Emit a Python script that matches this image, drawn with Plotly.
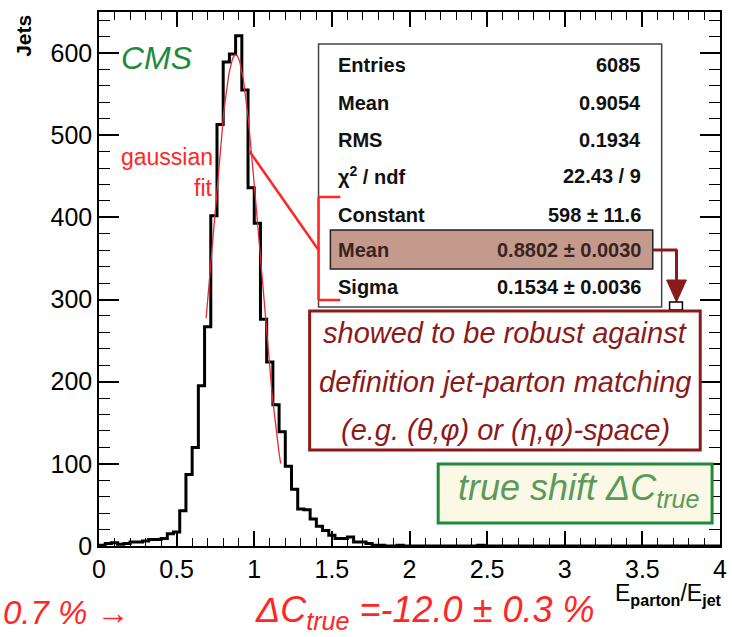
import math
import plotly.graph_objects as go

# ---------------- data ----------------
bin_width = 0.04
bin_counts = [
    1, 3, 4, 2, 3, 5, 5, 6, 8, 8,
    9, 15, 17, 43, 87, 120, 195, 267, 402, 513,
    589, 599, 621, 555, 436, 393, 276, 224, 172, 139,
    97, 69, 45, 44, 33, 24, 19, 13, 9, 9,
    11, 5, 5, 3, 1, 1, 0, 0, 1, 0,
    0, 0, 0, 0, 0, 0, 0, 0, 0, 0,
    0, 1, 0, 0, 0, 0, 0, 0, 0, 0,
    0, 0, 0, 0, 0, 0, 0, 0, 0, 0,
    0, 0, 0, 0, 0, 0, 0, 0, 0, 0,
    0, 0, 0, 0, 0, 0, 0, 0, 0, 0,
]
fit_constant = 598.0
fit_mean = 0.8802
fit_sigma = 0.1534
fit_range = [0.69, 1.17]

x_tickvals = [0, 0.5, 1, 1.5, 2, 2.5, 3, 3.5, 4]
x_ticktext = ["0", "0.5", "1", "1.5", "2", "2.5", "3", "3.5", "4"]
y_tickvals = [0, 100, 200, 300, 400, 500, 600]

stats_labels = ["Entries", "Mean", "RMS", "χ<sup>2</sup> / ndf", "Constant", "Mean", "Sigma"]
stats_values = ["6085", "0.9054", "0.1934", "22.43 / 9", "598 ± 11.6", "0.8802 ± 0.0030", "0.1534 ± 0.0036"]

note_lines = ["showed to be robust against",
              "definition jet-parton matching",
              "(e.g. (θ,φ) or (η,φ)-space)"]

# ---------------- geometry helpers ----------------
W, H = 732, 637
L, R, T, B = 99, 727, 12, 546


def px(x):
    return (x - L) / (R - L)


def py(y):
    return (B - y) / (B - T)


# ---------------- traces ----------------
edges = [i * bin_width for i in range(len(bin_counts) + 1)]
hx = edges
hy = bin_counts + [bin_counts[-1]]

n_fit = 120
fx = [fit_range[0] + (fit_range[1] - fit_range[0]) * i / (n_fit - 1) for i in range(n_fit)]
fy = [fit_constant * math.exp(-0.5 * ((v - fit_mean) / fit_sigma) ** 2) for v in fx]

fig = go.Figure()
fig.add_trace(go.Scatter(x=hx, y=hy, mode="lines", line=dict(shape="hv", color="black", width=3),
                         hoverinfo="skip", showlegend=False))
fig.add_trace(go.Scatter(x=fx, y=fy, mode="lines", line=dict(color="#e8293a", width=1.3),
                         hoverinfo="skip", showlegend=False))
# invisible trace to activate mirrored tick axes
fig.add_trace(go.Scatter(x=[0], y=[0], xaxis="x2", yaxis="y2", mode="markers",
                         marker=dict(opacity=0), hoverinfo="skip", showlegend=False))

FONT = "Liberation Sans, Arial, sans-serif"
RED = "#ff2626"
DRED = "#8b1a1a"
GREEN = "#1f8a3c"

shapes = []
annotations = []


def rect(x0, y0, x1, y1, line_color, line_width, fill):
    shapes.append(dict(type="rect", xref="paper", yref="paper", x0=px(x0), x1=px(x1), y0=py(y1), y1=py(y0),
                       line=dict(color=line_color, width=line_width), fillcolor=fill, layer="above"))


def seg(x0, y0, x1, y1, color, width):
    shapes.append(dict(type="line", xref="paper", yref="paper", x0=px(x0), x1=px(x1), y0=py(y0), y1=py(y1),
                       line=dict(color=color, width=width), layer="above"))


def text(x, y, s, size, color, xanchor="center", bold=False, italic=False, angle=0, family=FONT):
    if bold:
        s = "<b>" + s + "</b>"
    if italic:
        s = "<i>" + s + "</i>"
    annotations.append(dict(xref="paper", yref="paper", x=px(x), y=py(y), text=s, showarrow=False,
                            xanchor=xanchor, yanchor="middle", textangle=angle,
                            font=dict(size=size, color=color, family=family)))


# stats box
rect(321, 44, 668, 307, "#444444", 1.5, "white")
rect(333, 230, 659, 269, "#222222", 1.5, "#c49a8c")
row_y = [65, 103, 140, 176, 215, 250, 287]
for i, (lab, val) in enumerate(zip(stats_labels, stats_values)):
    col = "#3a2420" if i == 5 else "#111111"
    text(339, row_y[i], lab, 20, col, xanchor="left", bold=True)
    text(649, row_y[i], val, 20, col, xanchor="right", bold=True)

# red bracket + pointer
seg(321, 197, 343, 197, RED, 2.5)
seg(321, 197, 321, 300, RED, 2.5)
seg(321, 300, 343, 300, RED, 2.5)
seg(251, 151, 321, 250, RED, 2.5)

# dark red arrow
seg(659, 250, 684, 250, DRED, 3)
seg(683, 250, 683, 282, DRED, 3)
shapes.append(dict(type="path", xref="paper", yref="paper",
                   path="M {} {} L {} {} L {} {} Z".format(px(673), py(280), px(693), py(280), px(683), py(302)),
                   fillcolor=DRED, line=dict(color=DRED, width=1), layer="above"))
rect(676, 302, 689, 310, "black", 1.5, "white")

# note box
rect(312, 311, 707, 450, DRED, 3, "white")
for i, ln in enumerate(note_lines):
    text(510, [333, 382, 430][i], ln, 29, DRED, italic=True)

# green box
rect(442, 464, 719, 523, GREEN, 3, "#fbf8e6")
text(584, 490, "true shift ΔC<sub>true</sub>", 36, "#5a9a5a", italic=True)

# CMS label
text(157, 58, "CMS", 32, GREEN, italic=True)

# gaussian fit label
text(216, 157, "gaussian", 23, RED, xanchor="right")
text(216, 188, "fit", 23, RED, xanchor="right")

# axis titles
text(22, 36, "Jets", 21, "black", bold=True, angle=-90)
text(731, 594, "E<sub><b>parton</b></sub>/E<sub><b>jet</b></sub>", 23, "black", xanchor="right")

# bottom red texts
text(0, 612, "0.7 % →", 33, RED, xanchor="left", italic=True)
text(428, 612, "ΔC<sub>true</sub> =-12.0 ± 0.3 %", 36, RED, italic=True)

axis_common = dict(ticks="inside", tickcolor="black", showgrid=False, zeroline=False)

fig.update_layout(
    width=W, height=H,
    margin=dict(l=L, r=W - R, t=T, b=H - B),
    paper_bgcolor="white", plot_bgcolor="white",
    shapes=shapes, annotations=annotations,
    showlegend=False,
    font=dict(family=FONT, color="black"),
    xaxis=dict(range=[0, 4], tickvals=x_tickvals, ticktext=x_ticktext, ticklen=15, tickwidth=1.5,
               showline=True, linecolor="black", linewidth=1.5, mirror=True,
               ticklabeloverflow="allow",
               tickfont=dict(size=25, family=FONT, color="black"),
               minor=dict(dtick=0.1, ticks="inside", ticklen=8, tickcolor="black", tickwidth=1, showgrid=False),
               **axis_common),
    yaxis=dict(range=[0, 650], tickvals=y_tickvals, ticklen=20, tickwidth=1.5,
               showline=True, linecolor="black", linewidth=1.5, mirror=True,
               ticklabeloverflow="allow",
               tickfont=dict(size=25, family=FONT, color="black"),
               minor=dict(dtick=20, ticks="inside", ticklen=11, tickcolor="black", tickwidth=1, showgrid=False),
               **axis_common),
    xaxis2=dict(range=[0, 4], overlaying="x", side="top", tickvals=x_tickvals, ticklen=15, tickwidth=1.5,
                showticklabels=False, anchor="y",
                minor=dict(dtick=0.1, ticks="inside", ticklen=8, tickcolor="black", tickwidth=1, showgrid=False),
                **axis_common),
    yaxis2=dict(range=[0, 650], overlaying="y", side="right", tickvals=y_tickvals, ticklen=20, tickwidth=1.5,
                showticklabels=False, anchor="x",
                minor=dict(dtick=20, ticks="inside", ticklen=11, tickcolor="black", tickwidth=1, showgrid=False),
                **axis_common),
)

fig.write_html("out.html")
